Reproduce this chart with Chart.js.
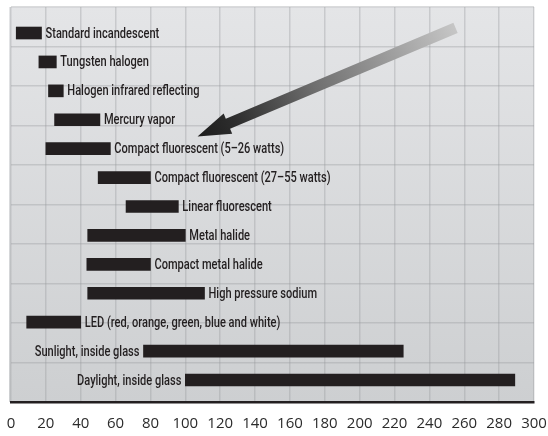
<!DOCTYPE html>
<html>
<head>
<meta charset="utf-8">
<script src="https://cdn.jsdelivr.net/npm/chart.js@4.4.0/dist/chart.umd.min.js"></script>
<style>
  html, body { margin: 0; padding: 0; background: #fff; }
</style>
</head>
<body>
<canvas id="chart" width="548" height="436"></canvas>
<script>
// lumens per watt ranges
const categories = [
  'Standard incandescent',
  'Tungsten halogen',
  'Halogen infrared reflecting',
  'Mercury vapor',
  'Compact fluorescent (5–26 watts)',
  'Compact fluorescent (27–55 watts)',
  'Linear fluorescent',
  'Metal halide',
  'Compact metal halide',
  'High pressure sodium',
  'LED (red, orange, green, blue and white)',
  'Sunlight, inside glass',
  'Daylight, inside glass'
];
const lowValues  = [3, 16, 21.5, 25, 20, 50, 66, 44, 43.5, 44, 9, 76, 100];
const highValues = [17.5, 26, 30, 51, 57, 80, 96, 100, 80, 111, 40, 225, 289];
// these two carry their label on the left of the bar
const leftLabeled = ['Sunlight, inside glass', 'Daylight, inside glass'];

const ink = '#231f20';
const gridColor = 'rgba(150,152,156,0.35)';

const rows = categories.map((c, i) => ({ x: [lowValues[i], highValues[i]], y: i }));

const panelBg = {
  id: 'panelBg',
  beforeDraw(chart) {
    const { ctx, chartArea: a } = chart;
    const g = ctx.createLinearGradient(0, a.top, 0, a.bottom);
    g.addColorStop(0, '#e4e5e7');
    g.addColorStop(1, '#cdcfd1');
    ctx.save();
    ctx.fillStyle = g;
    ctx.fillRect(a.left - 2, a.top, a.right - a.left + 2, a.bottom - a.top);
    ctx.restore();
  }
};

// condensed look: Roboto squeezed horizontally
const squeeze = 0.79;
const barLabels = {
  id: 'barLabels',
  afterDatasetsDraw(chart) {
    const ctx = chart.ctx;
    const meta = chart.getDatasetMeta(0);
    ctx.save();
    ctx.font = '500 14px Roboto, "Liberation Sans", sans-serif';
    ctx.fillStyle = ink;
    ctx.textBaseline = 'middle';
    meta.data.forEach((bar, i) => {
      const name = categories[i];
      const lo = Math.min(bar.x, bar.base);
      const hi = Math.max(bar.x, bar.base);
      const left = leftLabeled.includes(name);
      ctx.save();
      ctx.translate(left ? lo - 4 : hi + 4, bar.y + 1);
      ctx.scale(squeeze, 1);
      ctx.textAlign = left ? 'right' : 'left';
      ctx.fillText(name, 0, 0);
      ctx.restore();
    });
    ctx.restore();
  }
};

// big gradient arrow pointing at the compact fluorescent row
const pointer = {
  id: 'pointer',
  afterDatasetsDraw(chart) {
    const { ctx } = chart;
    const xs = chart.scales.x, ys = chart.scales.y;
    const tx = xs.getPixelForValue(255), ty = ys.getPixelForValue(-0.18);
    const hx = xs.getPixelForValue(107), hy = ys.getPixelForValue(3.58);
    const dx = hx - tx, dy = hy - ty;
    const len = Math.hypot(dx, dy);
    const ux = dx / len, uy = dy / len;
    const px = -uy, py = ux;
    const headLen = 33, headW = 11, shaftW = 5.5;
    const bx = hx - ux * headLen, by = hy - uy * headLen;
    const g = ctx.createLinearGradient(tx, ty, hx, hy);
    g.addColorStop(0, '#c6c6c6');
    g.addColorStop(0.55, '#6e6e6e');
    g.addColorStop(0.85, '#2e2e2e');
    g.addColorStop(1, '#1c1c1c');
    ctx.save();
    ctx.fillStyle = g;
    ctx.beginPath();
    ctx.moveTo(tx + px * shaftW, ty + py * shaftW);
    ctx.lineTo(bx + px * shaftW, by + py * shaftW);
    ctx.lineTo(bx + px * headW, by + py * headW);
    ctx.lineTo(hx, hy);
    ctx.lineTo(bx - px * headW, by - py * headW);
    ctx.lineTo(bx - px * shaftW, by - py * shaftW);
    ctx.lineTo(tx - px * shaftW, ty - py * shaftW);
    ctx.closePath();
    ctx.fill();
    ctx.restore();
  }
};

new Chart(document.getElementById('chart'), {
  type: 'bar',
  data: {
    datasets: [{
      data: rows,
      backgroundColor: ink,
      borderWidth: 0,
      barThickness: 12
    }]
  },
  options: {
    indexAxis: 'y',
    responsive: false,
    animation: false,
    layout: { padding: { top: 7, left: 11, right: 14, bottom: 2 } },
    plugins: { legend: { display: false }, tooltip: { enabled: false } },
    scales: {
      x: {
        type: 'linear',
        min: 0,
        max: 300,
        ticks: {
          stepSize: 20,
          padding: 1,
          color: '#2b2b2b',
          maxRotation: 0,
          autoSkip: false,
          font: { family: '"Open Sans", sans-serif', size: 15 }
        },
        grid: { color: gridColor, lineWidth: 1.5, drawTicks: true, tickLength: 12, tickColor: 'rgba(0,0,0,0)' },
        border: { display: true, color: ink, width: 2.5 }
      },
      y: {
        type: 'linear',
        min: -0.9,
        max: 12.76,
        reverse: true,
        offset: false,
        display: false
      },
      y2: {
        type: 'linear',
        position: 'left',
        min: 0,
        max: 10,
        offset: false,
        ticks: { display: false, stepSize: 1 },
        grid: { color: gridColor, lineWidth: 1.5, drawTicks: false, offset: false },
        border: { display: false }
      }
    }
  },
  plugins: [panelBg, barLabels, pointer]
});
</script>
</body>
</html>
